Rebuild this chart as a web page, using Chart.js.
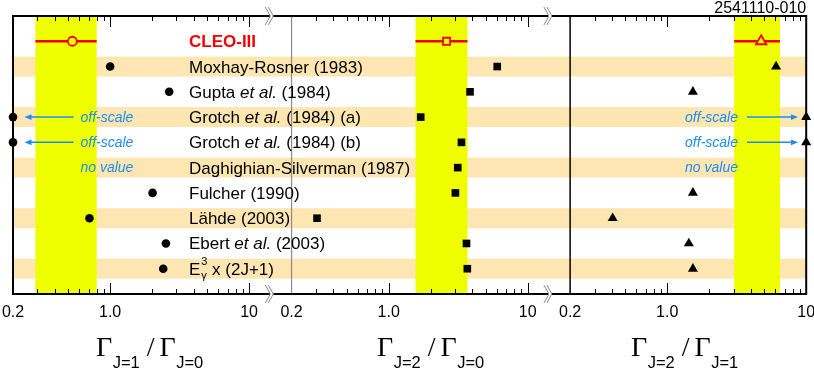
<!DOCTYPE html>
<html>
<head>
<meta charset="utf-8">
<script src="https://cdn.jsdelivr.net/npm/chart.js@4.4.1/dist/chart.umd.min.js"></script>
<style>
  html, body { margin: 0; padding: 0; background: #fff; }
</style>
</head>
<body>
<canvas id="ratios" width="814" height="368"></canvas>
<script>
// rows, top to bottom
const rowLabels = ['CLEO-III', 'Moxhay-Rosner (1983)', 'Gupta et al. (1984)', 'Grotch et al. (1984) (a)',
    'Grotch et al. (1984) (b)', 'Daghighian-Silverman (1987)', 'Fulcher (1990)', 'Lähde (2003)',
    'Ebert et al. (2003)', 'E_γ^3 x (2J+1)'];

// CLEO-III measurement per panel (J1/J0, J2/J0, J2/J1)
const cleoValue = [0.535, 2.61, 4.74];
const cleoLow = [0.29, 1.56, 3.03];
const cleoHigh = [0.80, 3.69, 6.48];

// theory predictions (one per theory row), null = no value
const ratioJ1J0 = [1.0, 2.66, 0.2, 0.2, null, 2.02, 0.71, 2.52, 2.41];
const ratioJ2J0 = [6.04, 3.85, 1.70, 3.34, 3.14, 3.02, 0.305, 3.63, 3.68];
const ratioJ2J1 = [6.07, 1.53, 10, 10, null, 1.53, 0.405, 1.43, 1.53];
const notesJ1J0 = ['', '', 'off-scale', 'off-scale', 'no value', '', '', '', ''];
const notesJ2J1 = ['', '', 'off-scale', 'off-scale', 'no value', '', '', '', ''];

const tickValues = [0.2, 1, 10];
const tickLabels = ['0.2', '1.0', '10'];
const panelSubs = [['J=1', 'J=0'], ['J=2', 'J=0'], ['J=2', 'J=1']];
const runCode = '2541110-010';

const BAND_ORANGE = '#fee6b2';
const BAND_YELLOW = '#efff00';
const CLEO_RED = '#f00000';
const NOTE_BLUE = '#1e8cf5';
const SANS = '"Liberation Sans", Arial, sans-serif';
const SERIF = '"Liberation Serif", "Times New Roman", serif';

// three log panels 0.2..10 side by side on one linear axis
const AXIS_MIN = 0.2, AXIS_MAX = 10;
const PANEL_SPAN = Math.log10(AXIS_MAX / AXIS_MIN);
const PANEL_GAP = 0.3055;
function panelX(p, v) {
    return p * (PANEL_SPAN + PANEL_GAP) + Math.log10(v / AXIS_MIN);
}

const panelData = [ratioJ1J0, ratioJ2J0, ratioJ2J1];
const shapes = ['circle', 'rect', 'triangle'];
const theoryRadius = [4.3, 5.4, 5.8];
const cleoRadius = [4.5, 5, 6];

const datasets = [];
panelData.forEach((vals, p) => {
    const pts = [];
    vals.forEach((v, i) => {
        if (v != null) pts.push({ x: panelX(p, v), y: i + 2 });
    });
    datasets.push({
        data: pts,
        pointStyle: shapes[p],
        pointRadius: theoryRadius[p],
        pointBackgroundColor: '#000',
        pointBorderWidth: 0,
        showLine: false,
        clip: false,
        order: 1
    });
    datasets.push({
        data: [{ x: panelX(p, cleoValue[p]), y: 1 }],
        pointStyle: shapes[p],
        pointRadius: cleoRadius[p],
        pointBackgroundColor: BAND_YELLOW,
        pointBorderColor: CLEO_RED,
        pointBorderWidth: 1.8,
        showLine: false,
        clip: false,
        order: 0
    });
    datasets.push({
        data: [{ x: panelX(p, cleoLow[p]), y: 1 }, { x: panelX(p, cleoHigh[p]), y: 1 }],
        showLine: true,
        borderColor: CLEO_RED,
        borderWidth: 2.5,
        pointRadius: 0,
        clip: false,
        order: 2
    });
});

const axisTicks = [];
const axisTickText = [];
for (let p = 0; p < 3; p++) {
    tickValues.forEach((v, k) => {
        axisTicks.push({ value: panelX(p, v) });
        axisTickText.push(tickLabels[k]);
    });
}

const minorTicks = [0.3, 0.4, 0.5, 0.6, 0.7, 0.8, 0.9, 2, 3, 4, 5, 6, 7, 8, 9];
const majorTicks = [1, 10];

function drawBreak(ctx, cx, cy) {
    ctx.save();
    ctx.fillStyle = '#fff';
    ctx.beginPath();
    ctx.moveTo(cx - 5, cy - 9);
    ctx.lineTo(cx, cy);
    ctx.lineTo(cx - 5, cy + 9);
    ctx.lineTo(cx - 2, cy + 9);
    ctx.lineTo(cx + 3, cy);
    ctx.lineTo(cx - 2, cy - 9);
    ctx.closePath();
    ctx.fill();
    ctx.strokeStyle = '#888';
    ctx.lineWidth = 1;
    [0, 3].forEach(dx => {
        ctx.beginPath();
        ctx.moveTo(cx - 5 + dx, cy - 9);
        ctx.lineTo(cx + dx, cy);
        ctx.lineTo(cx - 5 + dx, cy + 9);
        ctx.stroke();
    });
    ctx.restore();
}

function drawArrow(ctx, x1, x2, y) {
    const dir = Math.sign(x2 - x1);
    ctx.beginPath();
    ctx.moveTo(x1, y);
    ctx.lineTo(x2 - dir * 5, y);
    ctx.stroke();
    ctx.beginPath();
    ctx.moveTo(x2, y);
    ctx.lineTo(x2 - dir * 7, y - 2.8);
    ctx.lineTo(x2 - dir * 7, y + 2.8);
    ctx.closePath();
    ctx.fill();
}

function drawRowLabel(ctx, text, x, y) {
    const size = 17;
    ctx.textAlign = 'left';
    ctx.textBaseline = 'alphabetic';
    const base = y + 6;
    if (text === 'CLEO-III') {
        ctx.fillStyle = CLEO_RED;
        ctx.font = 'bold ' + size + 'px ' + SANS;
        ctx.fillText(text, x, base);
        return;
    }
    ctx.fillStyle = '#000';
    if (text.startsWith('E_γ^3')) {
        ctx.font = size + 'px ' + SANS;
        ctx.fillText('E', x, base);
        const xs = x + ctx.measureText('E').width + 1;
        ctx.font = '11px ' + SANS;
        ctx.fillText('3', xs, base - 9.5);
        ctx.fillText('γ', xs, base + 4.5);
        ctx.font = size + 'px ' + SANS;
        ctx.fillText(text.slice(5), xs + 6, base);
        return;
    }
    const parts = text.split('et al.');
    let cx = x;
    parts.forEach((part, k) => {
        ctx.font = size + 'px ' + SANS;
        ctx.fillText(part, cx, base);
        cx += ctx.measureText(part).width;
        if (k < parts.length - 1) {
            ctx.font = 'italic ' + size + 'px ' + SANS;
            ctx.fillText('et al.', cx, base);
            cx += ctx.measureText('et al.').width;
        }
    });
}

function drawTitle(ctx, x0, subA, subB) {
    const yB = 356;
    let x = x0;
    ctx.fillStyle = '#000';
    ctx.textAlign = 'left';
    ctx.textBaseline = 'alphabetic';
    ctx.font = '28px ' + SERIF;
    ctx.fillText('Γ', x, yB);
    x += ctx.measureText('Γ').width + 0.5;
    ctx.font = '16.5px ' + SANS;
    ctx.fillText(subA, x, yB + 12);
    x += ctx.measureText(subA).width + 7;
    ctx.font = '28px ' + SERIF;
    ctx.fillText('/', x, yB);
    x += ctx.measureText('/').width + 5;
    ctx.fillText('Γ', x, yB);
    x += ctx.measureText('Γ').width + 0.5;
    ctx.font = '16.5px ' + SANS;
    ctx.fillText(subB, x, yB + 12);
}

const decor = {
    id: 'decor',
    beforeDatasetsDraw(chart) {
        const { ctx, chartArea: a, scales: { x, y } } = chart;
        const px = (p, v) => x.getPixelForValue(panelX(p, v));
        ctx.save();
        // alternating row bands
        ctx.fillStyle = BAND_ORANGE;
        rowLabels.forEach((t, i) => {
            if (i % 2 === 1) {
                const yc = y.getPixelForValue(i + 1);
                ctx.fillRect(a.left, yc - 10, a.right - a.left, 20);
            }
        });
        // CLEO-III 1 sigma bands
        ctx.fillStyle = BAND_YELLOW;
        for (let p = 0; p < 3; p++) {
            const x1 = px(p, cleoLow[p]), x2 = px(p, cleoHigh[p]);
            ctx.fillRect(x1, a.top, x2 - x1, a.bottom - a.top);
        }
        // panel edges
        ctx.lineWidth = 1.2;
        ctx.strokeStyle = '#8a8a8a';
        let ex = px(1, AXIS_MIN);
        ctx.beginPath(); ctx.moveTo(ex, a.top); ctx.lineTo(ex, a.bottom); ctx.stroke();
        ctx.lineWidth = 1.5;
        ctx.strokeStyle = '#000';
        ex = px(2, AXIS_MIN);
        ctx.beginPath(); ctx.moveTo(ex, a.top); ctx.lineTo(ex, a.bottom); ctx.stroke();
        // ticks, top and bottom, pointing inward
        ctx.lineWidth = 1;
        ctx.beginPath();
        for (let p = 0; p < 3; p++) {
            minorTicks.concat(majorTicks).forEach(v => {
                const len = majorTicks.includes(v) ? 11 : 5;
                const tx = Math.round(px(p, v)) + 0.5;
                ctx.moveTo(tx, a.top); ctx.lineTo(tx, a.top + len);
                ctx.moveTo(tx, a.bottom); ctx.lineTo(tx, a.bottom - len);
            });
        }
        ctx.stroke();
        // frame
        ctx.lineWidth = 2;
        ctx.strokeRect(a.left, a.top, a.right - a.left, a.bottom - a.top);
        // axis breaks between panels
        for (let g = 0; g < 2; g++) {
            const cx = (px(g, AXIS_MAX) + px(g + 1, AXIS_MIN)) / 2;
            drawBreak(ctx, cx, a.top);
            drawBreak(ctx, cx, a.bottom);
        }
        ctx.restore();
    },
    afterDatasetsDraw(chart) {
        const { ctx, chartArea: a, scales: { x, y } } = chart;
        const px = (p, v) => x.getPixelForValue(panelX(p, v));
        ctx.save();
        rowLabels.forEach((t, i) => drawRowLabel(ctx, t, a.left + 176, y.getPixelForValue(i + 1)));
        // notes for missing / off-scale predictions
        ctx.fillStyle = NOTE_BLUE;
        ctx.strokeStyle = NOTE_BLUE;
        ctx.lineWidth = 1.5;
        ctx.font = 'italic 14px ' + SANS;
        ctx.textBaseline = 'alphabetic';
        ctx.textAlign = 'right';
        notesJ1J0.forEach((n, i) => {
            if (!n) return;
            const yc = y.getPixelForValue(i + 2);
            ctx.fillText(n, px(0, 1.47), yc + 4.8);
            if (n === 'off-scale') drawArrow(ctx, px(0, 0.545), px(0, 0.242), yc);
        });
        notesJ2J1.forEach((n, i) => {
            if (!n) return;
            const yc = y.getPixelForValue(i + 2);
            ctx.fillText(n, px(2, 3.23), yc + 4.8);
            if (n === 'off-scale') drawArrow(ctx, px(2, 3.75), px(2, 8.73), yc);
        });
        ctx.restore();
    },
    afterDraw(chart) {
        const { ctx, chartArea: a } = chart;
        ctx.save();
        ctx.fillStyle = '#000';
        ctx.font = '16px ' + SANS;
        ctx.textAlign = 'right';
        ctx.textBaseline = 'alphabetic';
        ctx.fillText(runCode, a.right, 13);
        const titleX = [96, 377, 631];
        panelSubs.forEach((s, p) => drawTitle(ctx, titleX[p], s[0], s[1]));
        ctx.restore();
    }
};

new Chart(document.getElementById('ratios'), {
    type: 'scatter',
    data: { datasets: datasets },
    options: {
        responsive: false,
        animation: false,
        events: [],
        layout: { padding: { top: 16, left: 13, right: 7, bottom: 36.8 } },
        plugins: { legend: { display: false }, tooltip: { enabled: false } },
        scales: {
            x: {
                type: 'linear',
                min: 0,
                max: 3 * PANEL_SPAN + 2 * PANEL_GAP,
                grid: { display: false, drawTicks: false },
                border: { display: false },
                afterBuildTicks: scale => { scale.ticks = axisTicks.map(t => ({ value: t.value })); },
                afterFit: scale => { scale.paddingLeft = 0; scale.paddingRight = 0; },
                ticks: {
                    autoSkip: false,
                    maxRotation: 0,
                    padding: 9,
                    color: '#000',
                    font: { family: SANS, size: 16 },
                    callback: (value, index) => axisTickText[index]
                }
            },
            y: {
                type: 'linear',
                min: 0,
                max: 11,
                reverse: true,
                display: false
            }
        }
    },
    plugins: [decor]
});
</script>
</body>
</html>
